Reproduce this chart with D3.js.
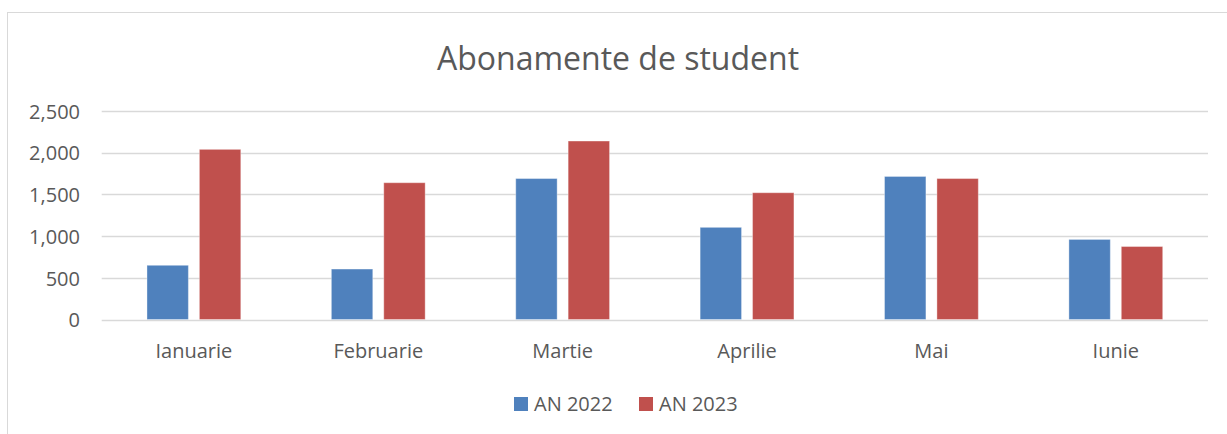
<!DOCTYPE html>
<html>
<head>
<meta charset="utf-8">
<script src="https://cdn.jsdelivr.net/npm/d3@7"></script>
<style>
  body { margin: 0; background: #fff; }
  svg { display: block; font-family: "Open Sans", sans-serif; }
</style>
</head>
<body>
<script>
// data
const months = ["Ianuarie", "Februarie", "Martie", "Aprilie", "Mai", "Iunie"];
const series = ["AN 2022", "AN 2023"];
const an2022 = [650, 605, 1690, 1105, 1715, 960];
const an2023 = [2040, 1640, 2140, 1520, 1690, 875];
const yTicks = [0, 500, 1000, 1500, 2000, 2500];

const width = 1227, height = 434;
const colors = ["#4F81BD", "#C0504D"];
const textColor = "#595959";

const svg = d3.select("body").append("svg")
  .attr("width", width)
  .attr("height", height);

// chart area border (runs off right/bottom)
svg.append("rect")
  .attr("x", 7.5).attr("y", 12.5)
  .attr("width", 1300).attr("height", 500)
  .attr("fill", "#fff")
  .attr("stroke", "#d9d9d9");

const plotLeft = 101.7, plotRight = 1208;

const x = d3.scaleBand().domain(months).range([plotLeft, plotRight]);
const y = d3.scaleLinear().domain([0, 2500]).range([319.5, 111]);

// inner bar layout (Excel gap width / overlap)
const bw = x.bandwidth();
const barW = bw * 0.2245;
const barGap = bw * 0.0597;
const xSub = d3.scaleOrdinal().domain(series)
  .range([bw * 0.2456, bw * 0.2456 + barW + barGap]);

// gridlines
svg.append("g")
  .selectAll("line")
  .data(yTicks)
  .join("line")
  .attr("x1", plotLeft).attr("x2", plotRight)
  .attr("y1", d => Math.round(y(d)) + 0.5)
  .attr("y2", d => Math.round(y(d)) + 0.5)
  .attr("stroke", "#d9d9d9")
  .attr("stroke-width", 1.3);

// y axis labels
const yAxis = svg.append("g")
  .attr("transform", `translate(${80},0)`)
  .call(d3.axisLeft(y).tickValues(yTicks).tickSize(0).tickPadding(0).tickFormat(d3.format(",")));
yAxis.select(".domain").remove();
yAxis.selectAll("text")
  .attr("fill", textColor)
  .attr("font-size", 20)
  .attr("font-family", "Open Sans, sans-serif")
  .attr("dy", "0.36em");

// bars
const rows = months.map((m, i) => ({ month: m, values: [an2022[i], an2023[i]] }));
svg.append("g")
  .selectAll("g")
  .data(rows)
  .join("g")
  .attr("transform", d => `translate(${x(d.month)},0)`)
  .selectAll("rect")
  .data(d => d.values.map((v, j) => ({ key: series[j], value: v, j })))
  .join("rect")
  .attr("x", d => xSub(d.key))
  .attr("y", d => y(d.value))
  .attr("width", barW)
  .attr("height", d => y(0) - y(d.value))
  .attr("fill", d => colors[d.j])
  .attr("stroke", "rgba(255,255,255,0.35)")
  .attr("stroke-width", 1);

// x axis labels
const xAxis = svg.append("g")
  .attr("transform", `translate(0,${358})`)
  .call(d3.axisBottom(x).tickSize(0).tickPadding(0));
xAxis.select(".domain").remove();
xAxis.selectAll("text")
  .attr("fill", textColor)
  .attr("font-size", 20)
  .attr("font-family", "Open Sans, sans-serif")
  .attr("dy", 0)
  .attr("y", 0);

// title
svg.append("text")
  .attr("x", 618)
  .attr("y", 70)
  .attr("text-anchor", "middle")
  .attr("fill", textColor)
  .attr("font-size", 32)
  .text("Abonamente de student");

// legend
const legendX = [514, 639];
const legend = svg.append("g")
  .selectAll("g")
  .data(series)
  .join("g")
  .attr("transform", (d, i) => `translate(${legendX[i]},397)`);
legend.append("rect")
  .attr("width", 14).attr("height", 14)
  .attr("fill", (d, i) => colors[i]);
legend.append("text")
  .attr("x", 20).attr("y", 14)
  .attr("fill", textColor)
  .attr("font-size", 20)
  .text(d => d);
</script>
</body>
</html>
